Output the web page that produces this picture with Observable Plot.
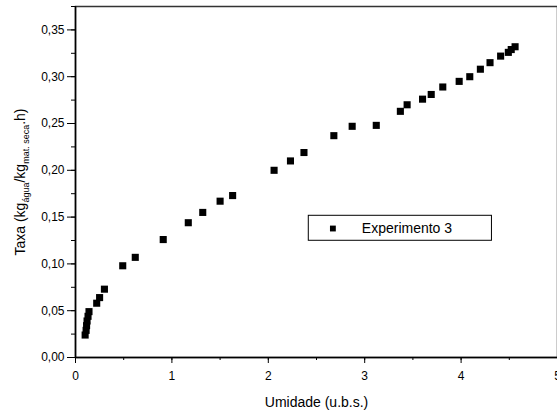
<!DOCTYPE html>
<html><head><meta charset="utf-8">
<script src="https://cdn.jsdelivr.net/npm/d3@7"></script>
<script src="https://cdn.jsdelivr.net/npm/@observablehq/plot@0.6"></script>
<style>
html,body{margin:0;padding:0;background:#fff;}
svg{font-family:"Liberation Sans",Arial,sans-serif;}
</style>
</head><body>
<div id="chart"></div>
<script>
const umidade = [0.10,0.11,0.115,0.12,0.13,0.14,0.22,0.25,0.30,0.49,0.62,0.91,1.17,1.32,1.50,1.63,2.06,2.23,2.37,2.68,2.87,3.12,3.37,3.44,3.60,3.69,3.81,3.98,4.09,4.20,4.30,4.41,4.49,4.52,4.56];
const taxa    = [0.024,0.029,0.034,0.039,0.044,0.049,0.058,0.064,0.073,0.098,0.107,0.126,0.144,0.155,0.167,0.173,0.200,0.210,0.219,0.237,0.247,0.248,0.263,0.270,0.276,0.281,0.289,0.295,0.300,0.308,0.315,0.322,0.326,0.329,0.332];
const xTicks = [0,1,2,3,4,5];
const yTicks = [0,0.05,0.10,0.15,0.20,0.25,0.30,0.35];
const seriesName = "Experimento 3";
const xLabel = "Umidade (u.b.s.)";

const data = umidade.map((u,i)=>({u, t: taxa[i]}));
const fmt = d => d.toFixed(2).replace(".", ",");

const plot = Plot.plot({
  width: 557, height: 416,
  marginLeft: 75, marginRight: 0, marginTop: 6, marginBottom: 59,
  style: {fontFamily: '"Liberation Sans", Arial, sans-serif', fontSize: "12px", color: "#000", background: "#fff"},
  x: {domain: [0,5]},
  y: {domain: [0,0.375]},
  marks: [
    Plot.frame({stroke: "#333", strokeWidth: 1.5}),
    Plot.axisX({ticks: d3.range(0,5.01,0.5), tickSize: 3, tickFormat: null, label: null, text: null}),
    Plot.axisX({ticks: xTicks, tickSize: 6, tickPadding: 8, tickFormat: d => String(d), label: null, fontSize: 12}),
    Plot.axisY({ticks: d3.range(0,0.3751,0.025), tickSize: 4, label: null, text: null}),
    Plot.axisY({ticks: yTicks, tickSize: 8, tickPadding: 3, tickFormat: fmt, label: null, fontSize: 12}),
    Plot.ruleX([0], {stroke: "#000", strokeWidth: 1.5}),
    Plot.ruleY([0], {stroke: "#000", strokeWidth: 1.5}),
    Plot.dot(data, {x: "u", y: "t", symbol: "square", r: 4, fill: "#000", stroke: null}),
    // legend
    Plot.rect([0], {x1: 2.42, x2: 4.32, y1: 0.1247, y2: 0.1514, fill: "#fff", stroke: "#000", strokeWidth: 1}),
    Plot.dot([0], {x: 2.67, y: 0.1378, symbol: "square", r: 3.3, fill: "#000"}),
    Plot.text([seriesName], {x: 2.97, y: 0.1378, text: d => d, textAnchor: "start", fontSize: 14, fill: "#000"}),
    Plot.text([xLabel], {frameAnchor: "bottom", dy: 49, text: d => d, fontSize: 14, fill: "#000"})
  ]
});
document.getElementById("chart").appendChild(plot);

// Y axis label with subscripts
const svg = d3.select(plot);
const t = svg.append("text")
  .attr("transform", "translate(25,182) rotate(-90)")
  .attr("text-anchor", "middle")
  .attr("font-size", 14)
  .attr("fill", "#000");
t.append("tspan").text("Taxa (kg");
t.append("tspan").attr("font-size", 9).attr("dy", 4).text("água");
t.append("tspan").attr("dy", -4).text("/kg");
t.append("tspan").attr("font-size", 9).attr("dy", 4).text("mat. seca");
t.append("tspan").attr("dy", -4).text(".h)");
</script>
</body></html>
